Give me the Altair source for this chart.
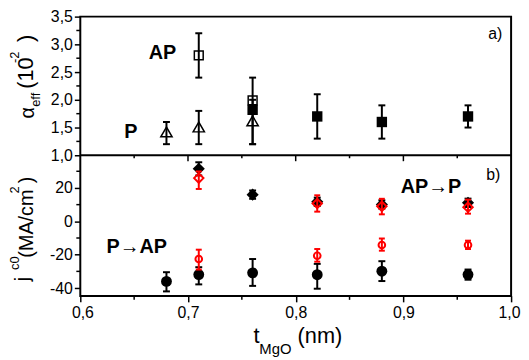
import altair as alt
import pandas as pd

# ---------------- Panel a) alpha_eff (10^-2) ----------------
ap_x = [0.71, 0.76]
ap_y = [2.80, 1.99]
ap_lo = [2.40, None]
ap_hi = [3.20, None]

sq_x = [0.76, 0.82, 0.88, 0.96]
sq_y = [1.82, 1.70, 1.60, 1.70]
sq_lo = [1.20, 1.30, 1.30, 1.50]
sq_hi = [2.40, 2.10, 1.90, 1.90]

p_x = [0.68, 0.71, 0.76]
p_y = [1.42, 1.51, 1.62]
p_lo = [1.20, 1.20, 1.20]
p_hi = [1.60, 1.80, 2.00]

# ---------------- Panel b) j_c0 (MA/cm^2) ----------------
ap2p_x = [0.71, 0.76, 0.82, 0.88, 0.96]
ap2p_y = [31.5, 16.0, 11.7, 10.1, 11.1]
ap2p_lo = [27.5, 13.5, 9.2, 7.6, 8.6]
ap2p_hi = [35.4, 18.5, 14.2, 12.6, 13.6]

ap2p_red_x = [0.71, 0.82, 0.88, 0.96]
ap2p_red_y = [25.9, 10.7, 9.0, 8.5]
ap2p_red_lo = [19.4, 5.8, 4.2, 4.6]
ap2p_red_hi = [29.9, 15.6, 13.5, 13.0]

p2ap_x = [0.68, 0.71, 0.76, 0.82, 0.88, 0.96]
p2ap_y = [-36.0, -31.9, -30.9, -32.0, -29.9, -31.9]
p2ap_lo = [-42.0, -37.8, -38.7, -40.4, -35.8, -35.0]
p2ap_hi = [-30.5, -27.5, -22.6, -25.5, -23.9, -28.9]

p2ap_red_x = [0.71, 0.82, 0.88, 0.96]
p2ap_red_y = [-22.6, -20.6, -14.2, -14.2]
p2ap_red_lo = [-28.9, -24.2, -17.6, -16.6]
p2ap_red_hi = [-17.0, -16.6, -10.3, -11.6]

# ticks
x_major = [0.6, 0.7, 0.8, 0.9, 1.0]
x_minor = [0.65, 0.75, 0.85, 0.95]
ya_major = [1.0, 1.5, 2.0, 2.5, 3.0, 3.5]
ya_minor = [1.25, 1.75, 2.25, 2.75, 3.25]
yb_major = [-40, -20, 0, 20]
yb_minor = [-30, -10, 10, 30]

W, H = 435, 282
HA = 140
FONT = "Liberation Sans"

xscale = alt.Scale(domain=[0.6, 1.0], nice=False, zero=False)
ya_scale = alt.Scale(domain=[1.0, 3.5], range=[HA, 0], nice=False, zero=False)
yb_scale = alt.Scale(domain=[-44.7, 39.6], range=[H, HA], nice=False, zero=False)

comma_expr = "replace(format(datum.value, '.1f'), '.', ',')"


def df_of(x, y, lo, hi):
    return pd.DataFrame({"x": x, "y": y, "lo": lo, "hi": hi})


def series(df, yscale, shape, size, filled, color, sw=1.5, cap=7):
    xe = alt.X("x:Q", scale=xscale, axis=None)
    eb = df.dropna()
    rule = alt.Chart(eb).mark_rule(color=color, strokeWidth=2).encode(
        x=xe, y=alt.Y("lo:Q", scale=yscale, axis=None), y2="hi:Q")
    caps = []
    for f in ["lo", "hi"]:
        caps.append(alt.Chart(eb).mark_rule(color=color, strokeWidth=2,
                                            xOffset=-cap / 2, x2Offset=cap / 2).encode(
            x=xe, x2="x:Q", y=alt.Y(f + ":Q", scale=yscale, axis=None)))
    pts = alt.Chart(df).mark_point(shape=shape, size=size, filled=filled,
                                   color=color, strokeWidth=sw, opacity=1).encode(
        x=xe, y=alt.Y("y:Q", scale=yscale, axis=None))
    return [rule] + caps + [pts]


def txt(s, x, y, size, angle=0, bold=False, color="black"):
    return alt.Chart(alt.Data(values=[{}])).mark_text(
        text=s, fontSize=size, angle=angle, font=FONT,
        fontWeight="bold" if bold else "normal", color=color,
        align="center", baseline="middle").encode(x=alt.value(x), y=alt.value(y))


common = dict(title=None, domain=False, grid=False, tickSize=6, tickWidth=1.5,
              tickColor="black", labelFont=FONT, labelFontSize=16, labelColor="black")
axis_a = alt.Axis(orient="left", values=ya_major, labelExpr=comma_expr, labelPadding=2, **common)
axis_b = alt.Axis(orient="left", values=yb_major,
                  labelExpr="datum.value < 0 ? '-' + abs(datum.value) : '' + datum.value",
                  labelPadding=2, **common)
axis_x = alt.Axis(orient="bottom", values=x_major, labelExpr=comma_expr, labelPadding=3,
                  labelFlush=True, labelFlushOffset=9, **common)

# axis-carrying layers (drawn first, invisible points)
axA = alt.Chart(pd.DataFrame({"v": ya_major})).mark_point(opacity=0).encode(
    x=alt.value(0),
    y=alt.Y("v:Q", scale=ya_scale, axis=axis_a))
axB = alt.Chart(pd.DataFrame({"v": yb_major, "w": [0.6, 0.7, 0.8, 0.9]})).mark_point(opacity=0).encode(
    x=alt.X("w:Q", scale=xscale, axis=axis_x),
    y=alt.Y("v:Q", scale=yb_scale, axis=axis_b))

minor_a = alt.Chart(pd.DataFrame({"v": ya_minor})).mark_rule(color="black", strokeWidth=1.5).encode(
    y=alt.Y("v:Q", scale=ya_scale, axis=None), x=alt.value(-4), x2=alt.value(0))
minor_b = alt.Chart(pd.DataFrame({"v": yb_minor})).mark_rule(color="black", strokeWidth=1.5).encode(
    y=alt.Y("v:Q", scale=yb_scale, axis=None), x=alt.value(-4), x2=alt.value(0))
xminor_bottom = alt.Chart(pd.DataFrame({"v": x_minor})).mark_rule(color="black", strokeWidth=1.5).encode(
    x=alt.X("v:Q", scale=xscale, axis=None), y=alt.value(H), y2=alt.value(H + 4))
mid_major = alt.Chart(pd.DataFrame({"v": x_major[1:-1]})).mark_rule(color="black", strokeWidth=1.5).encode(
    x=alt.X("v:Q", scale=xscale, axis=None), y=alt.value(HA), y2=alt.value(HA + 6))
mid_minor = alt.Chart(pd.DataFrame({"v": x_minor})).mark_rule(color="black", strokeWidth=1.5).encode(
    x=alt.X("v:Q", scale=xscale, axis=None), y=alt.value(HA), y2=alt.value(HA + 3))
mid_line = alt.Chart(alt.Data(values=[{}])).mark_rule(color="black", strokeWidth=2).encode(
    x=alt.value(0), x2=alt.value(W), y=alt.value(HA))

layers = [axA, axB, minor_a, minor_b, xminor_bottom, mid_major, mid_minor]
layers += series(df_of(sq_x, sq_y, sq_lo, sq_hi), ya_scale, "square", 110, True, "black")
layers += series(df_of(p_x, p_y, p_lo, p_hi), ya_scale, "triangle-up", 130, False, "black")
layers += series(df_of(ap_x, ap_y, ap_lo, ap_hi), ya_scale, "square", 80, False, "black")
layers += series(df_of(ap2p_x, ap2p_y, ap2p_lo, ap2p_hi), yb_scale, "diamond", 150, True, "black")
layers += series(df_of(p2ap_x, p2ap_y, p2ap_lo, p2ap_hi), yb_scale, "circle", 120, True, "black")
layers += series(df_of(ap2p_red_x, ap2p_red_y, ap2p_red_lo, ap2p_red_hi), yb_scale, "diamond", 90,
                 False, "red", sw=2, cap=6)
layers += series(df_of(p2ap_red_x, p2ap_red_y, p2ap_red_lo, p2ap_red_hi), yb_scale, "circle", 45,
                 False, "red", sw=2, cap=6)
layers.append(mid_line)

texts = [
    txt("AP", 83, 37, 20, bold=True),
    txt("P", 51, 117, 20, bold=True),
    txt("a)", 419, 18, 16),
    txt("b)", 417, 160, 16),
    txt("AP\u2192P", 354, 172, 20, bold=True),
    txt("P\u2192AP", 57, 233, 20, bold=True),
    txt("\u03b1", -53, 97, 20, angle=270),
    txt("eff", -45, 84, 13, angle=270),
    txt("(10", -55, 57, 22, angle=270),
    txt("-2", -66, 41, 13, angle=270),
    txt(")", -55, 22, 22, angle=270),
    txt("j", -58, 265, 20, angle=270),
    txt("c0", -66, 249, 13, angle=270),
    txt("(MA/cm", -54, 209, 20, angle=270),
    txt("2", -66, 175, 13, angle=270),
    txt(")", -54, 165, 20, angle=270),
    txt("t", 178, 323, 22),
    txt("MgO", 197, 336, 15),
    txt("(nm)", 242, 323, 22),
]

chart = alt.layer(*layers, *texts).resolve_scale(y="independent").resolve_axis(
    x="independent").properties(
    width=W, height=H,
    autosize=alt.AutoSizeParams(type="none"),
    padding={"left": 73, "top": 7, "right": 10, "bottom": 60},
).configure_view(stroke="black", strokeWidth=2)

chart.save("out.html", embed_options={"renderer": "svg", "actions": False})
